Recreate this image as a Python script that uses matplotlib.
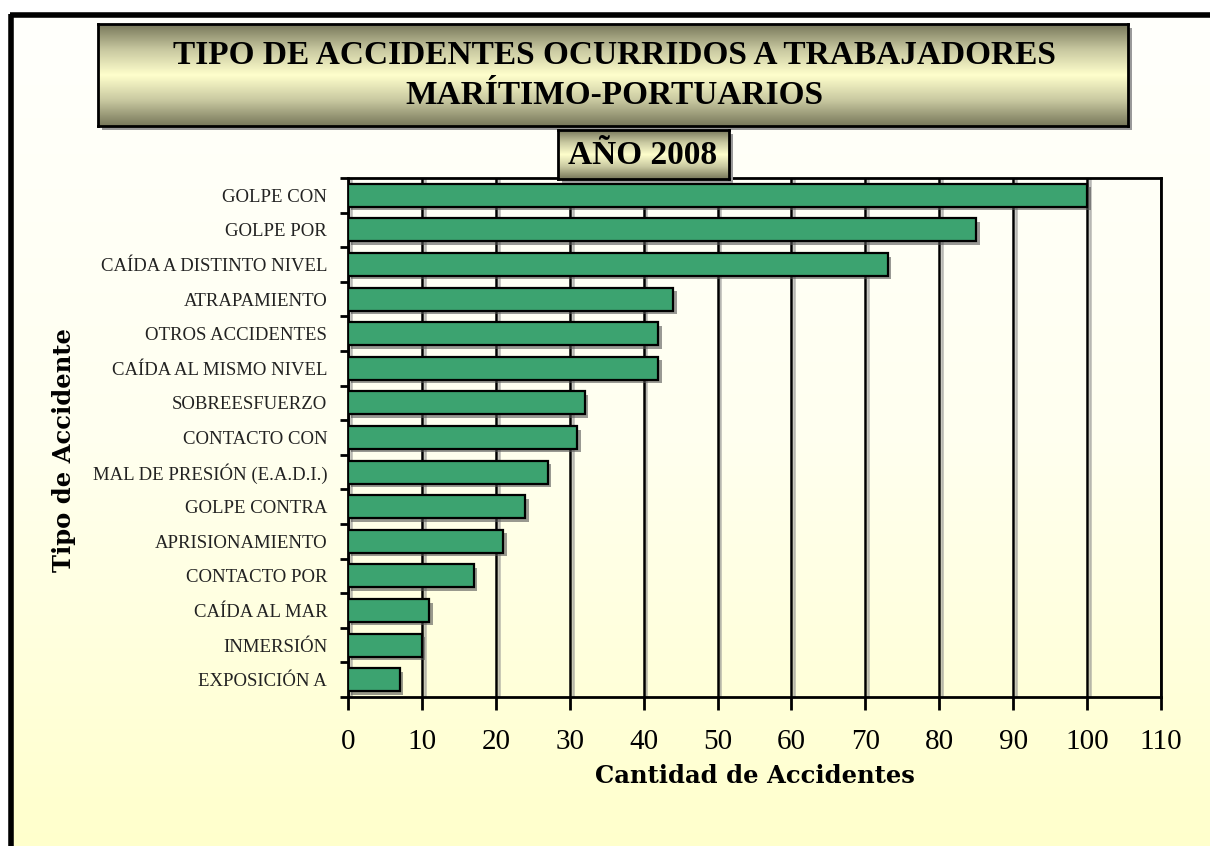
import numpy as np
import matplotlib
matplotlib.use("Agg")
import matplotlib.pyplot as plt
import matplotlib.patheffects as pe
from matplotlib.patches import Rectangle
from matplotlib.colors import LinearSegmentedColormap

categorias = [
    "GOLPE CON", "GOLPE POR", "CAÍDA A DISTINTO NIVEL", "ATRAPAMIENTO",
    "OTROS ACCIDENTES", "CAÍDA AL MISMO NIVEL", "SOBREESFUERZO",
    "CONTACTO CON", "MAL DE PRESIÓN (E.A.D.I.)", "GOLPE CONTRA",
    "APRISIONAMIENTO", "CONTACTO POR", "CAÍDA AL MAR", "INMERSIÓN",
    "EXPOSICIÓN A",
]
cantidad = [100, 85, 73, 44, 42, 42, 32, 31, 27, 24, 21, 17, 11, 10, 7]
xticks = [0, 10, 20, 30, 40, 50, 60, 70, 80, 90, 100, 110]

W, H = 1210, 846


def fx(px):
    return px / W


def fy(py):
    return 1 - py / H


def main():
    fig = plt.figure(figsize=(W / 100, H / 100), dpi=100)
    fig.patch.set_facecolor("white")

    # fondo con degradado dentro del marco
    bg = fig.add_axes([fx(12), 0, 1 - fx(12), fy(15)], zorder=-10)
    cmap_bg = LinearSegmentedColormap.from_list("bg", ["#FFFFFC", "#FFFFF0", "#FFFFCC"])
    bg.imshow(np.linspace(0, 1, 256).reshape(-1, 1), aspect="auto", cmap=cmap_bg,
              extent=[0, 1, 0, 1])
    bg.set_axis_off()
    fig.add_artist(plt.Line2D([fx(11.5), fx(11.5)], [0, fy(14)], color="black", lw=4,
                              transform=fig.transFigure, solid_capstyle="butt"))
    fig.add_artist(plt.Line2D([fx(9.5), 1], [fy(15), fy(15)], color="black", lw=4,
                              transform=fig.transFigure, solid_capstyle="butt"))

    cmap_box = LinearSegmentedColormap.from_list(
        "box", ["#77775A", "#C8C8A0", "#FFFFCC", "#C8C8A0", "#77775A"])

    def caja(x0, y0, x1, y1, zorder=5):
        # sombra
        fig.add_artist(Rectangle((fx(x0 + 4), fy(y1 + 4)), fx(x1 - x0), (y1 - y0) / H,
                                 transform=fig.transFigure, facecolor="#9A9A9A",
                                 edgecolor="none", zorder=zorder - 1))
        bx = fig.add_axes([fx(x0), fy(y1), fx(x1 - x0), (y1 - y0) / H], zorder=zorder)
        bx.imshow(np.linspace(0, 1, 256).reshape(-1, 1), aspect="auto", cmap=cmap_box,
                  extent=[0, 1, 0, 1])
        bx.set_xticks([])
        bx.set_yticks([])
        for s in bx.spines.values():
            s.set_linewidth(2)
            s.set_color("black")
        return bx

    # gráfico
    ax = fig.add_axes([fx(348), fy(697), fx(1161 - 348), (697 - 178) / H])
    ax.set_facecolor("none")
    y = np.arange(len(categorias))
    bars = ax.barh(y, cantidad, height=0.66, color="#3CA370", edgecolor="black",
                   linewidth=1.6, zorder=3)
    for b in bars:
        b.set_path_effects([pe.SimplePatchShadow(offset=(2.5, -2.5), shadow_rgbFace="#555555",
                                                 alpha=0.6), pe.Normal()])
    ax.set_xlim(0, 110)
    ax.set_ylim(len(categorias) - 0.5, -0.5)
    ax.set_xticks(xticks)
    ax.set_xticklabels([str(t) for t in xticks], fontsize=21, family="Liberation Serif")
    ax.set_yticks(y)
    ax.set_yticklabels(categorias, fontsize=13.5, family="Liberation Serif", color="#222222")
    ax.set_yticks(np.arange(-0.5, len(categorias)), minor=True)
    ax.tick_params(axis="y", which="major", length=0, pad=15)
    ax.tick_params(axis="y", which="minor", length=6, width=2, direction="out")
    ax.tick_params(axis="x", length=9, width=2, direction="out", pad=14)
    ax.xaxis.grid(True, color="black", linewidth=1.8, zorder=1)
    for gl in ax.xaxis.get_gridlines():
        gl.set_path_effects([pe.SimpleLineShadow(offset=(2, -1), shadow_color="#888888",
                                                 alpha=0.6), pe.Normal()])
    ax.set_axisbelow(True)
    for s in ax.spines.values():
        s.set_linewidth(2)
        s.set_color("black")

    fig.text(fx(755), fy(776), "Cantidad de Accidentes", ha="center", va="center",
             fontsize=17.5, fontweight="bold", family="DejaVu Serif")
    fig.text(fx(64), fy(450), "Tipo de Accidente", ha="center", va="center",
             rotation=90, fontsize=17.5, fontweight="bold", family="DejaVu Serif")

    # títulos
    caja(98, 24, 1128, 126)
    fig.text(fx(614), fy(55), "TIPO DE ACCIDENTES OCURRIDOS A TRABAJADORES",
             ha="center", va="center", fontsize=24, fontweight="bold",
             family="Liberation Serif", zorder=20)
    fig.text(fx(614), fy(95), "MARÍTIMO-PORTUARIOS", ha="center", va="center",
             fontsize=24, fontweight="bold", family="Liberation Serif", zorder=20)
    caja(558, 130, 729, 179, zorder=8)
    fig.text(fx(643), fy(155), "AÑO 2008", ha="center", va="center", fontsize=24,
             fontweight="bold", family="Liberation Serif", zorder=20)

    fig.savefig("out.png", dpi=100)


if __name__ == "__main__":
    main()
